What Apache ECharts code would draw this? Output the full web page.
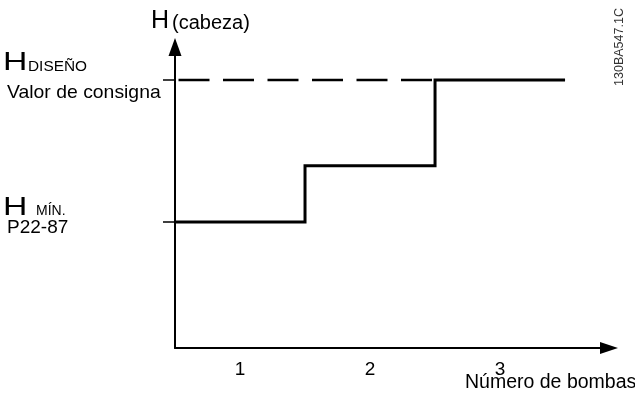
<!DOCTYPE html>
<html>
<head>
<meta charset="utf-8">
<script src="https://cdn.jsdelivr.net/npm/echarts@6/dist/echarts.min.js"></script>
<style>
html,body{margin:0;padding:0;background:#fff;}
#chart{width:635px;height:403px;}
</style>
</head>
<body>
<div id="chart"></div>
<script>
// ---- data ----
const pumps = [1, 2, 3];              // Número de bombas
const heads = [47, 68, 100];          // H (cabeza) for each number of pumps
const designHead = 100;               // H DISEÑO (valor de consigna)
const minHead = 47;                   // H MÍN. (P22-87)
const xTickLabels = ['1', '2', '3'];

// ---- build series data from arrays ----
const stepData = [];
pumps.forEach((p, i) => {
  stepData.push([p - 0.5, heads[i]]);
  stepData.push([p + 0.5, heads[i]]);
});
const lastIdx = heads.indexOf(designHead);
const dashData = [[pumps[0] - 0.5, designHead], [pumps[lastIdx] - 0.5, designHead]];

const FONT = '"Liberation Sans", Arial, sans-serif';
function txt(x, y, text, size, scaleX, fill) {
  return {type: 'text', x: x, y: y, scaleX: scaleX || 1, silent: true,
    style: {text: text, font: size + 'px ' + FONT, fill: fill || '#000', align: 'left', verticalAlign: 'middle'}};
}
const chart = echarts.init(document.getElementById('chart'), null, {renderer: 'canvas'});
chart.setOption({
  animation: false,
  backgroundColor: '#fff',
  grid: {left: 175, right: 26, top: 47, bottom: 55, containLabel: false},
  xAxis: {
    type: 'value', min: 0.5, max: 3.838,
    splitLine: {show: false},
    axisTick: {show: false},
    axisLine: {show: true, symbol: ['none', 'triangle'], symbolSize: [12, 18],
      lineStyle: {color: '#000', width: 2}},
    axisLabel: {
      customValues: pumps,
      formatter: v => xTickLabels[pumps.indexOf(v)],
      color: '#000', fontSize: 19, fontFamily: FONT, margin: 12
    }
  },
  yAxis: {
    type: 'value', min: 0, max: 112.3,
    splitLine: {show: false},
    axisLabel: {show: false},
    axisTick: {show: true, inside: false, length: 12, customValues: [minHead, designHead],
      lineStyle: {color: '#000', width: 1.5}},
    axisLine: {show: true, symbol: ['none', 'triangle'], symbolSize: [13, 18],
      lineStyle: {color: '#000', width: 2}}
  },
  series: [
    {
      type: 'line', data: dashData, symbol: 'none', silent: true,
      lineStyle: {color: '#000', width: 2.5, type: [31, 13.5], dashOffset: 41}
    },
    {
      type: 'line', data: stepData, symbol: 'none', silent: true,
      lineStyle: {color: '#000', width: 3, join: 'miter', cap: 'butt'}
    }
  ],
  graphic: [
    txt(151, 21, 'H', 25),
    txt(172, 23, '(cabeza)', 20),
    txt(3, 63, 'H', 25, 1.35),
    txt(28, 67, 'DISEÑO', 14, 1.1),
    txt(7, 93, 'Valor de consigna', 19, 1.02),
    txt(3, 208, 'H', 25, 1.35),
    txt(36, 211.5, 'MÍN.', 14),
    txt(7, 228, 'P22-87', 19),
    txt(465, 383, 'Número de bombas', 19.5),
    {type: 'text', x: 620, y: 47, rotation: Math.PI / 2, silent: true,
      style: {text: '130BA547.1C', font: '12.5px ' + FONT, fill: '#333', align: 'center', verticalAlign: 'middle'}}
  ]
});
</script>
</body>
</html>
